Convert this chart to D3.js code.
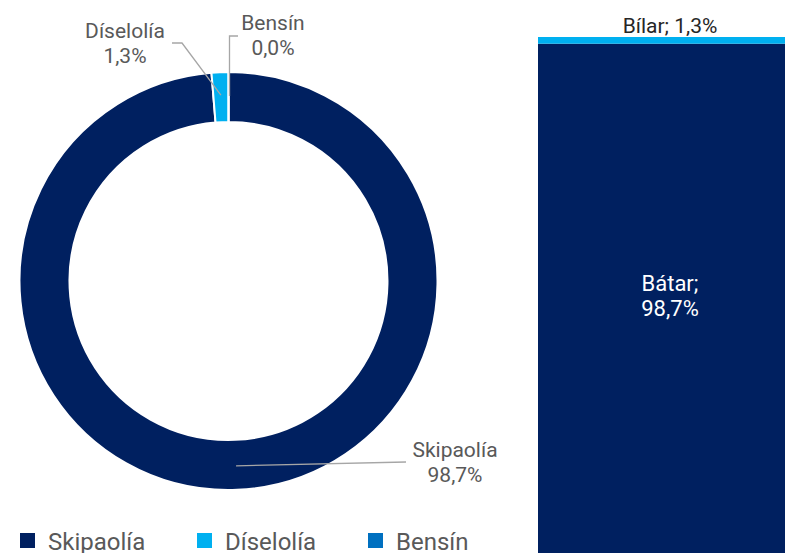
<!DOCTYPE html>
<html>
<head>
<meta charset="utf-8">
<script src="https://cdn.jsdelivr.net/npm/d3@7"></script>
<style>
  body { margin: 0; background: #fff; }
  #chart { width: 785px; height: 553px; }
  text { font-family: Roboto, "Noto Sans", sans-serif; }
</style>
</head>
<body>
<div id="chart"></div>
<script>
var fuels = ["Skipaolía", "Díselolía", "Bensín"];
var fuelShares = [98.7, 1.3, 0.0];
var fuelLabels = ["98,7%", "1,3%", "0,0%"];
var fleet = ["Bátar", "Bílar"];
var fleetShares = [98.7, 1.3];
var fleetLabels = ["98,7%", "1,3%"];

var colors = ["#002060", "#00b0f0", "#0070c0"];
var labelGray = "#595959";

var width = 785, height = 553;
var svg = d3.select("#chart").append("svg")
    .attr("width", width)
    .attr("height", height);

// donut
var cx = 228.5, cy = 281, outerR = 209, innerR = 159;
var pie = d3.pie().sort(null).value(function(d) { return d; });
var arcs = pie(fuelShares);
var arc = d3.arc().innerRadius(innerR).outerRadius(outerR);

var donut = svg.append("g").attr("transform", "translate(" + cx + "," + cy + ")");
donut.selectAll("path")
    .data(arcs)
    .enter().append("path")
    .attr("d", arc)
    .attr("fill", function(d, i) { return colors[i]; })
    .attr("stroke", "#fff")
    .attr("stroke-width", 2);

// leader lines (points relative to donut centre)
function arcPoint(a, r) { return [Math.sin(a) * r, -Math.cos(a) * r]; }
var sA = arcs[0], dA = arcs[1], bA = arcs[2];
var p0 = arcPoint((sA.startAngle + sA.endAngle) / 2, 185);
var p1 = arcPoint((dA.startAngle + dA.endAngle) / 2, 186);
var p2 = arcPoint(bA.startAngle, 185);

var leaders = [
  [[406 - cx, 462 - cy], p0],
  [[172 - cx, 43 - cy], [182 - cx, 43 - cy], p1],
  [[238 - cx, 36 - cy], [p2[0] + 1, 36 - cy], [p2[0] + 1, p2[1]]]
];
donut.selectAll("polyline")
    .data(leaders)
    .enter().append("polyline")
    .attr("points", function(d) { return d.map(function(p) { return p.join(","); }).join(" "); })
    .attr("fill", "none")
    .attr("stroke", "#a6a6a6")
    .attr("stroke-width", 1.3);

var labelPos = [[455, 457], [125, 38], [273, 30]];
var lbl = svg.append("g").selectAll("text")
    .data(fuels)
    .enter().append("text")
    .attr("x", function(d, i) { return labelPos[i][0]; })
    .attr("y", function(d, i) { return labelPos[i][1]; })
    .attr("text-anchor", "middle")
    .attr("fill", labelGray)
    .style("font-size", "21px");
lbl.append("tspan").text(function(d) { return d; });
lbl.append("tspan")
    .attr("x", function(d, i) { return labelPos[i][0]; })
    .attr("dy", 25)
    .text(function(d, i) { return fuelLabels[i]; });

// stacked bar
var y = d3.scaleLinear().domain([0, 100]).range([553, 37]);
var barX = 538, barW = 250;
var stacked = [];
var acc = 0;
fleetShares.forEach(function(v, i) {
  stacked.push({ name: fleet[i], y0: acc, y1: acc + v, label: fleetLabels[i], color: colors[i] });
  acc += v;
});
svg.append("g").selectAll("rect")
    .data(stacked)
    .enter().append("rect")
    .attr("x", barX)
    .attr("width", barW)
    .attr("y", function(d) { return y(d.y1); })
    .attr("height", function(d) { return y(d.y0) - y(d.y1); })
    .attr("fill", function(d) { return d.color; });

var bLabel = svg.append("text")
    .attr("x", 670)
    .attr("y", y((stacked[0].y0 + stacked[0].y1) / 2) - 7)
    .attr("text-anchor", "middle")
    .attr("fill", "#fff")
    .style("font-size", "22px");
bLabel.append("tspan").text(stacked[0].name + ";");
bLabel.append("tspan").attr("x", 670).attr("dy", 25).text(stacked[0].label);

svg.append("text")
    .attr("x", 670)
    .attr("y", y(stacked[1].y1) - 4)
    .attr("text-anchor", "middle")
    .attr("fill", "#262626")
    .style("font-size", "21px")
    .text(stacked[1].name + "; " + stacked[1].label);

// legend
var legX = [20, 197, 368];
var leg = svg.append("g").selectAll("g")
    .data(fuels)
    .enter().append("g")
    .attr("transform", function(d, i) { return "translate(" + legX[i] + ",533)"; });
leg.append("rect")
    .attr("width", 15)
    .attr("height", 15)
    .attr("fill", function(d, i) { return colors[i]; });
leg.append("text")
    .attr("x", 28)
    .attr("y", 17)
    .attr("fill", labelGray)
    .style("font-size", "24px")
    .text(function(d) { return d; });
</script>
</body>
</html>
